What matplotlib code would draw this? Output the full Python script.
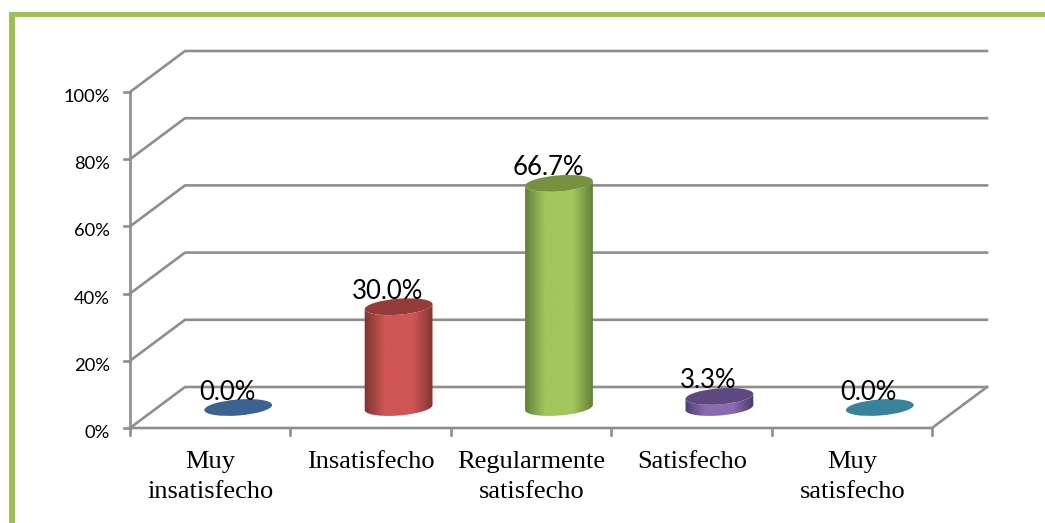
import matplotlib
matplotlib.use("Agg")
import matplotlib.pyplot as plt
import numpy as np
from matplotlib.colors import LinearSegmentedColormap
from matplotlib.patches import Ellipse, PathPatch, Rectangle
from matplotlib.path import Path

categories = ["Muy\ninsatisfecho", "Insatisfecho", "Regularmente\nsatisfecho", "Satisfecho", "Muy\nsatisfecho"]
values = [0.0, 30.0, 66.7, 3.3, 0.0]
y_ticks = [0, 20, 40, 60, 80, 100]

W, H = 1045, 523
FRONT_X0, FRONT_X1 = 130, 932
FRONT_Y0, FRONT_Y100 = 428, 92
DEPTH_X, DEPTH_Y = 55, 41
BASE_Y = 407.5
SEMI_A, SEMI_B, TILT = 34, 8.0, np.radians(-4.5)

GRID = "#8e8e8e"
FRAME = "#9fbf5a"
SIDE = ["#2f4d73", "#7d3331", "#617d34", "#4e3a6a", "#2c6577"]
MID = ["#4a7ab3", "#cf5654", "#a3c65d", "#8a6bb0", "#45a0bd"]
TOP = ["#3c6291", "#953c3a", "#76923f", "#5f4880", "#39829b"]

px_per_pct = (FRONT_Y0 - FRONT_Y100) / 100
cat_w = (FRONT_X1 - FRONT_X0) / len(categories)


def ellipse_pt(cx, cy, t):
    x = SEMI_A * np.cos(t)
    y = SEMI_B * np.sin(t)
    return (cx + x * np.cos(TILT) - y * np.sin(TILT),
            cy + x * np.sin(TILT) + y * np.cos(TILT))


def draw_cylinder(ax, cx, value, i):
    top_y = BASE_Y - value * px_per_pct
    if value > 0:
        # body outline: lower half of the base, then back along the top
        t = np.linspace(0, np.pi, 60)
        bx, by = ellipse_pt(cx, BASE_Y, t)
        tx, ty = ellipse_pt(cx, top_y, t[::-1])
        verts = np.column_stack([np.r_[bx, tx], np.r_[by, ty]])
        clip = PathPatch(Path(np.vstack([verts, verts[:1]]), closed=True),
                         transform=ax.transData, fc="none", ec="none")
        ax.add_patch(clip)
        cmap = LinearSegmentedColormap.from_list(
            "c", [(0, SIDE[i]), (0.3, MID[i]), (0.7, MID[i]), (1, SIDE[i])])
        im = ax.imshow(np.linspace(0, 1, 128)[None, :], cmap=cmap, aspect="auto",
                       extent=[cx - SEMI_A - 1, cx + SEMI_A + 1, BASE_Y + 12, top_y - 12],
                       zorder=3, interpolation="bilinear")
        im.set_clip_path(clip)
    ax.add_patch(Ellipse((cx, top_y), 2 * SEMI_A, 2 * SEMI_B, angle=np.degrees(TILT),
                         fc=TOP[i], ec="none", zorder=4))
    ax.text(cx - 11, top_y - 15.5, f"{value:.1f}%", ha="center", va="center",
            fontsize=18.5, family="Lato", color="black", zorder=5)


fig = plt.figure(figsize=(W / 100, H / 100), dpi=100)
ax = fig.add_axes([0, 0, 1, 1])

# outer frame, only top and left are visible
ax.add_patch(Rectangle((9, 12), W, 5, fc=FRAME, ec="none"))
ax.add_patch(Rectangle((9, 12), 5.5, H, fc=FRAME, ec="none"))

for v in y_ticks:
    fy = FRONT_Y0 - v * px_per_pct
    by = fy - DEPTH_Y
    ax.plot([FRONT_X0, FRONT_X0 + DEPTH_X, FRONT_X1 + DEPTH_X], [fy, by, by],
            color=GRID, lw=1.9, zorder=1, solid_joinstyle="miter")
    ax.plot([FRONT_X0 - 6, FRONT_X0], [fy, fy], color=GRID, lw=1.9, zorder=1)
    ax.text(110, fy + 5, f"{v}%", ha="right", va="center", fontsize=13.2,
            family="Lato", color="black")

# floor front edge and axis lines
ax.plot([FRONT_X0, FRONT_X0], [FRONT_Y100, FRONT_Y0], color=GRID, lw=1.9, zorder=2)
ax.plot([FRONT_X0, FRONT_X1, FRONT_X1 + DEPTH_X], [FRONT_Y0, FRONT_Y0, FRONT_Y0 - DEPTH_Y],
        color=GRID, lw=1.9, zorder=2)
for i in range(len(categories) + 1):
    x = FRONT_X0 + i * cat_w
    ax.plot([x, x], [FRONT_Y0, FRONT_Y0 + 7], color=GRID, lw=1.9, zorder=2)

for i, (name, v) in enumerate(zip(categories, values)):
    front_c = FRONT_X0 + (i + 0.5) * cat_w
    draw_cylinder(ax, front_c + 28, v, i)
    ax.text(front_c + 0.5, 451, name, ha="center", va="top", fontsize=19,
            family="Liberation Serif", color="black", linespacing=1.45)

ax.set_xlim(0, W)
ax.set_ylim(H, 0)
ax.axis("off")
fig.savefig("out.png", dpi=100)
plt.close(fig)
